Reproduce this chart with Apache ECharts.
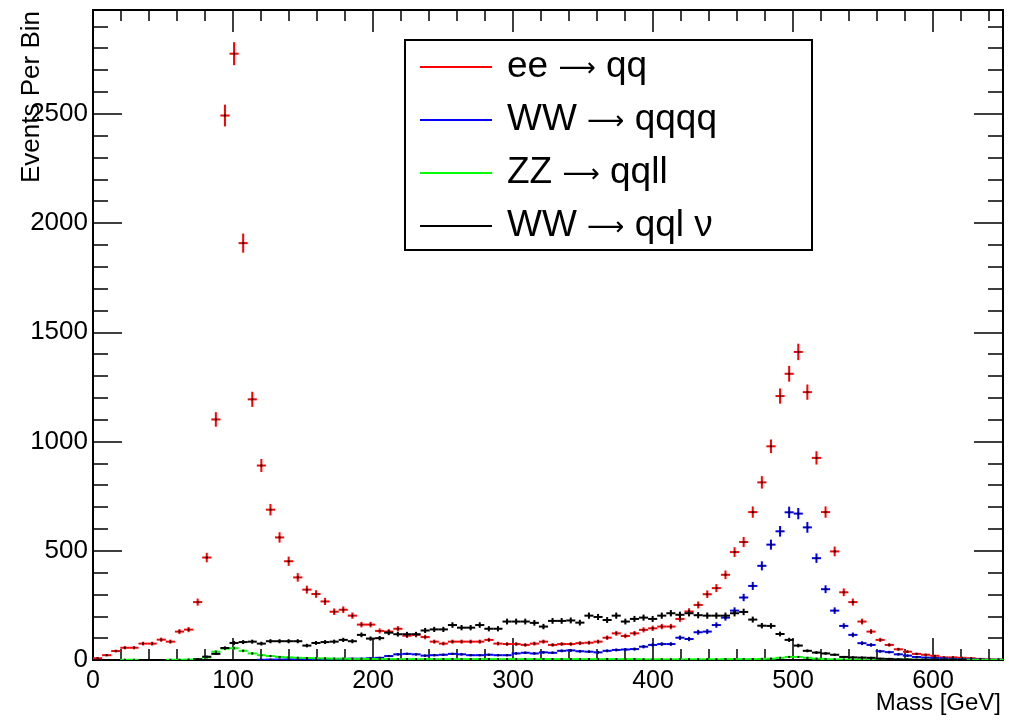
<!DOCTYPE html>
<html>
<head>
<meta charset="utf-8">
<script src="https://cdn.jsdelivr.net/npm/echarts@6/dist/echarts.min.js"></script>
<style>
html,body{margin:0;padding:0;background:#fff;}
#chart{width:1009px;height:720px;}
</style>
</head>
<body>
<div id="chart"></div>
<script>
// ---- Histogram binning (100 bins, 0 - 650 GeV) ----
const X_MIN = 0;
const X_MAX = 650;
const N_BINS = 100;
const Y_MAX = 2975;
const xTickLabels = ['0', '100', '200', '300', '400', '500', '600'];
const yTickLabels = ['0', '500', '1000', '1500', '2000', '2500'];

const seriesNames = ['ee \u2192 qq', 'WW \u2192 qqqq', 'ZZ \u2192 qqll', 'WW \u2192 qql \u03bd'];
const seriesColors = ['#ff0000', '#0000ff', '#00ff00', '#000000'];

// ---- Events per bin ----
const eeQQ = [
  8, 22, 41, 56, 56, 75, 75, 93, 84, 130,
  139, 265, 469, 1101, 2492, 2775, 1908, 1193, 890, 688,
  561, 452, 378, 322, 302, 268, 221, 230, 203, 162,
  162, 133, 130, 143, 111, 115, 105, 84, 75, 84,
  84, 84, 84, 92, 75, 73, 73, 69, 75, 84,
  69, 73, 73, 77, 79, 84, 102, 122, 110, 122,
  138, 145, 153, 153, 188, 222, 252, 301, 329, 390,
  494, 540, 677, 813, 978, 1208, 1310, 1410, 1226, 925,
  677, 497, 310, 265, 176, 130, 92, 69, 49, 38,
  28, 24, 19, 12, 12, 10, 8, 5, 3, 2
];
const wwQQQQ = [
  0, 0, 0, 0, 0, 0, 0, 0, 0, 0,
  0, 0, 0, 0, 0, 0, 0, 0, 1, 2,
  2, 3, 3, 3, 4, 5, 5, 5, 6, 6,
  8, 10, 18, 26, 28, 26, 20, 22, 24, 28,
  26, 22, 22, 24, 22, 22, 30, 33, 30, 35,
  33, 42, 44, 40, 38, 35, 42, 46, 48, 50,
  61, 69, 73, 73, 102, 96, 127, 130, 160, 194,
  226, 286, 339, 431, 528, 589, 676, 670, 607, 466,
  324, 226, 156, 115, 77, 69, 40, 36, 26, 20,
  14, 11, 9, 7, 5, 4, 3, 2, 1, 1
];
const zzQQLL = [
  0, 0, 0, 1, 1, 0, 0, 0, 1, 1,
  2, 4, 12, 38, 52, 54, 42, 30, 22, 18,
  14, 12, 10, 9, 8, 7, 6, 6, 5, 5,
  5, 4, 4, 4, 4, 4, 4, 4, 4, 4,
  4, 4, 4, 4, 4, 4, 4, 4, 4, 4,
  4, 4, 4, 4, 4, 4, 4, 4, 4, 4,
  3, 3, 3, 3, 3, 3, 3, 3, 3, 4,
  4, 4, 4, 5, 6, 10, 14, 14, 10, 6,
  4, 3, 2, 2, 2, 2, 2, 2, 2, 2,
  1, 1, 1, 1, 1, 1, 1, 1, 1, 1
];
const wwQQLNu = [
  0, 0, 0, 0, 0, 0, 0, 0, 0, 0,
  0, 3, 15, 28, 55, 78, 82, 84, 75, 86,
  86, 86, 86, 66, 78, 82, 84, 92, 86, 115,
  98, 100, 125, 118, 118, 118, 135, 140, 140, 160,
  148, 148, 160, 143, 143, 176, 176, 176, 170, 153,
  179, 179, 181, 171, 203, 197, 183, 203, 176, 188,
  194, 188, 203, 214, 207, 214, 205, 203, 203, 203,
  214, 220, 185, 157, 156, 119, 92, 66, 42, 34,
  30, 24, 14, 12, 11, 10, 6, 5, 3, 2,
  1, 1, 1, 1, 1, 1, 0, 0, 0, 0
];
const seriesValues = [eeQQ, wwQQQQ, zzQQLL, wwQQLNu];

// ---- drawing ----
const FONT = '"Liberation Sans", Arial, Helvetica, sans-serif';
const BIN_W = (X_MAX - X_MIN) / N_BINS;
const LW = 2;

function binData(vals) {
  return vals.map((v, i) => [X_MIN + BIN_W * (i + 0.5), v]);
}

function makeRenderer(color) {
  return function (params, api) {
    const x = api.value(0), y = api.value(1);
    if (!(y > 0)) return null;
    const err = Math.sqrt(y);
    const pL = api.coord([x - BIN_W / 2, y]);
    const pR = api.coord([x + BIN_W / 2, y]);
    const pT = api.coord([x, Math.min(y + err, Y_MAX)]);
    const pB = api.coord([x, Math.max(y - err, 0)]);
    const c = api.coord([x, y]);
    return {
      type: 'group',
      children: [
        { type: 'line', shape: { x1: pL[0], y1: pL[1], x2: pR[0], y2: pR[1] }, style: { stroke: color, lineWidth: LW } },
        { type: 'line', shape: { x1: pT[0], y1: pT[1], x2: pB[0], y2: pB[1] }, style: { stroke: color, lineWidth: LW } },
        { type: 'rect', shape: { x: c[0] - 1, y: c[1] - 1, width: 2, height: 2 }, style: { fill: '#000' } }
      ]
    };
  };
}

const tickStyle = { color: '#000', width: 1.5 };

function xAx(pos, interval, len, labels) {
  return {
    type: 'value', min: X_MIN, max: X_MAX, interval: interval, position: pos,
    axisLine: { show: false, onZero: false }, splitLine: { show: false },
    axisTick: { show: true, inside: true, length: len, lineStyle: tickStyle },
    axisLabel: labels ? {
      show: true, fontSize: 25, color: '#000', fontFamily: FONT, margin: 9,
      showMaxLabel: false,
      formatter: v => (xTickLabels.indexOf(String(v)) >= 0 ? String(v) : '')
    } : { show: false }
  };
}
function yAx(pos, interval, len, labels) {
  return {
    type: 'value', min: 0, max: Y_MAX, interval: interval, position: pos,
    axisLine: { show: false, onZero: false }, splitLine: { show: false },
    axisTick: { show: true, inside: true, length: len, lineStyle: tickStyle },
    axisLabel: labels ? {
      show: true, fontSize: 26, color: '#000', fontFamily: FONT, margin: 5,
      showMaxLabel: false,
      formatter: v => (yTickLabels.indexOf(String(v)) >= 0 ? String(v) : '')
    } : { show: false }
  };
}

function legendFormatter(name) {
  const parts = name.split('\u2192');
  return '{t|' + parts[0] + '}{a|\u27f6}{t|' + parts[1] + '}';
}

const chart = echarts.init(document.getElementById('chart'), null, { renderer: 'canvas' });
chart.setOption({
  animation: false,
  backgroundColor: '#fff',
  grid: { left: 93, top: 10, width: 910, height: 650, show: true, borderColor: '#000', borderWidth: 2, backgroundColor: 'transparent' },
  xAxis: [
    xAx('bottom', 100, 22, true),
    xAx('bottom', 20, 11, false),
    xAx('top', 100, 22, false),
    xAx('top', 20, 11, false)
  ],
  yAxis: [
    yAx('left', 500, 29, true),
    yAx('left', 100, 15, false),
    yAx('right', 500, 29, false),
    yAx('right', 100, 15, false)
  ],
  legend: {
    orient: 'vertical', left: 420, top: 45, padding: 0, itemGap: 9,
    itemWidth: 72, itemHeight: 2, icon: 'rect', z: 10,
    selectedMode: false,
    formatter: legendFormatter,
    textStyle: {
      fontSize: 37, lineHeight: 44, color: '#000', fontFamily: FONT, padding: [0, 0, 0, 10],
      rich: {
        t: { fontSize: 37, lineHeight: 44, color: '#000', fontFamily: FONT },
        a: { fontSize: 26, lineHeight: 44, color: '#000', fontFamily: '"DejaVu Sans", sans-serif', padding: [4, 0, 0, 0] }
      }
    },
    data: seriesNames
  },
  graphic: [
    { type: 'rect', z: 5, shape: { x: 405, y: 40, width: 407, height: 210 }, style: { fill: '#fff', stroke: '#000', lineWidth: 2 } },
    { type: 'text', x: 45, y: 11, rotation: Math.PI / 2, style: { text: 'Events Per Bin', font: '26px ' + FONT, fill: '#000', align: 'right', verticalAlign: 'bottom' } },
    { type: 'text', x: 1001, y: 703, style: { text: 'Mass [GeV]', font: '24px ' + FONT, fill: '#000', align: 'right', verticalAlign: 'middle' } }
  ],
  series: seriesNames.map((name, k) => ({
    name: name,
    type: 'custom',
    xAxisIndex: 0, yAxisIndex: 0,
    itemStyle: { color: seriesColors[k] },
    encode: { x: 0, y: 1 },
    clip: true,
    renderItem: makeRenderer(seriesColors[k]),
    data: binData(seriesValues[k])
  }))
});
</script>
</body>
</html>
